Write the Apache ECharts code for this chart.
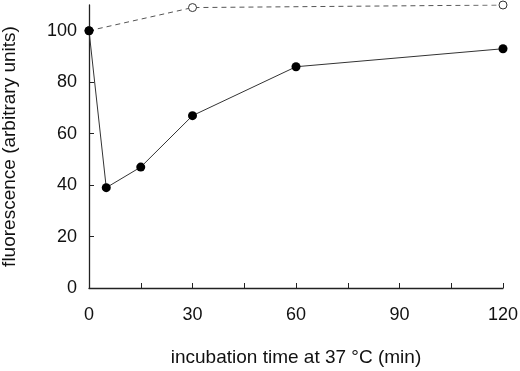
<!DOCTYPE html>
<html>
<head>
<meta charset="utf-8">
<script src="https://cdn.jsdelivr.net/npm/echarts@6/dist/echarts.min.js"></script>
<style>
  html, body { margin: 0; padding: 0; background: #fff; }
  #chart { width: 520px; height: 371px; }
</style>
</head>
<body>
<div id="chart"></div>
<script>
// values
const timeSolid = [0, 5, 15, 30, 60, 120];
const fluorSolid = [100, 39, 47, 67, 86, 93];
const timeDashed = [0, 30, 120];
const fluorDashed = [100, 109, 110];
const xTicks = [0, 15, 30, 45, 60, 75, 90, 105, 120];
const xLabels = [0, 30, 60, 90, 120];
const yTicks = [0, 20, 40, 60, 80, 100];

const font = 'Liberation Sans, Arial, sans-serif';

let chart = echarts.init(document.getElementById('chart'));
chart.setOption({
    animation: false,
    grid: { left: 89, right: 17, top: 5, bottom: 83, outerBoundsMode: 'none', containLabel: false },
    xAxis: {
        type: 'value',
        min: 0,
        max: 120,
        name: 'incubation time at 37 °C (min)',
        nameLocation: 'middle',
        nameGap: 60,
        nameTextStyle: { color: '#111', fontSize: 19, fontFamily: font },
        axisLine: { lineStyle: { color: '#222', width: 1.3 } },
        axisTick: { inside: true, length: 5, customValues: xTicks, lineStyle: { color: '#222' } },
        axisLabel: { customValues: xLabels, margin: 18, color: '#111', fontSize: 18, fontFamily: font },
        splitLine: { show: false }
    },
    yAxis: {
        type: 'value',
        min: 0,
        max: 110,
        name: 'fluorescence (arbitrary units)',
        nameLocation: 'middle',
        nameGap: 70,
        nameTextStyle: { color: '#111', fontSize: 19, fontFamily: font },
        axisLine: { show: true, lineStyle: { color: '#222', width: 1.3 } },
        axisTick: { show: true, inside: true, length: 5, customValues: yTicks, lineStyle: { color: '#222' } },
        axisLabel: { customValues: yTicks, margin: 12, color: '#111', fontSize: 18, fontFamily: font },
        splitLine: { show: false }
    },
    series: [
        {
            type: 'line',
            data: timeDashed.map((t, i) => [t, fluorDashed[i]]),
            symbol: 'circle',
            symbolSize: 8,
            lineStyle: { color: '#555', width: 1, type: [5, 4] },
            itemStyle: { color: '#fff', borderColor: '#333', borderWidth: 1 },
            z: 2
        },
        {
            type: 'line',
            data: timeSolid.map((t, i) => [t, fluorSolid[i]]),
            symbol: 'circle',
            symbolSize: 9,
            lineStyle: { color: '#333', width: 1 },
            itemStyle: { color: '#000', borderColor: '#000', borderWidth: 0 },
            z: 3
        }
    ]
});
</script>
</body>
</html>
